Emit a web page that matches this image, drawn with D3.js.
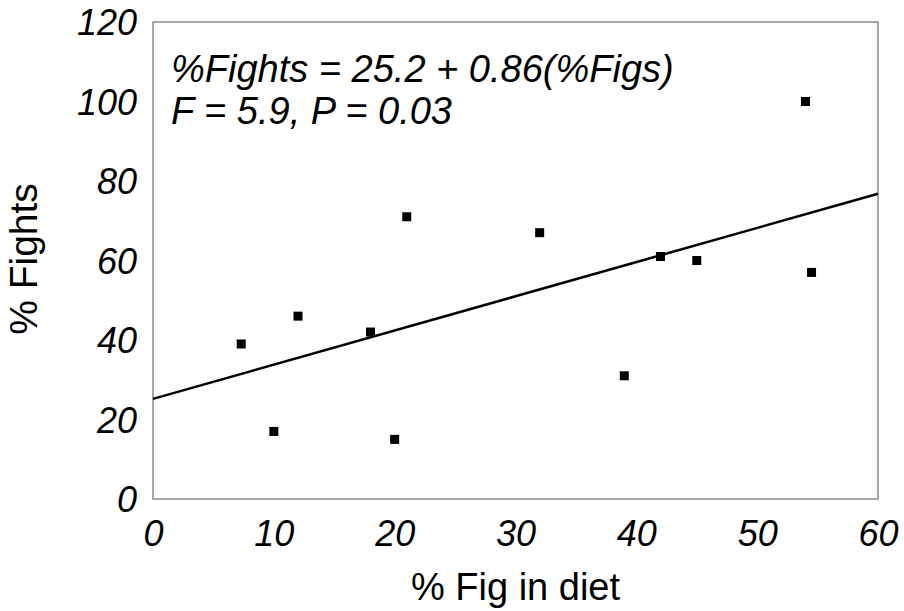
<!DOCTYPE html>
<html>
<head>
<meta charset="utf-8">
<script src="https://cdn.jsdelivr.net/npm/d3@7"></script>
<style>
  body { margin: 0; background: #fff; }
  svg { display: block; font-family: "Liberation Sans", Arial, sans-serif; }
</style>
</head>
<body>
<div id="chart"></div>
<script>
/**
 * DATA
 * */
const figPct = [7.3, 10, 12, 18, 21, 20, 32, 39, 42, 45, 54, 54.5];
const fightPct = [39, 17, 46, 42, 71, 15, 67, 31, 61, 60, 100, 57];
const fitLine = { intercept: 25.2, slope: 0.86 };
const xTicks = [0, 10, 20, 30, 40, 50, 60];
const yTicks = [0, 20, 40, 60, 80, 100, 120];
const annotation = ["%Fights = 25.2 + 0.86(%Figs)", "F = 5.9, P = 0.03"];

const width = 904,
  height = 611,
  margin = { top: 22, right: 26, bottom: 112, left: 153 };

const svg = d3.select("#chart")
  .append("svg")
  .attr("width", width)
  .attr("height", height);

const x = d3.scaleLinear().domain([0, 60]).range([margin.left, width - margin.right]);
const y = d3.scaleLinear().domain([0, 120]).range([height - margin.bottom, margin.top]);

// frame around plot area
svg.append("rect")
  .attr("x", x(0))
  .attr("y", y(120))
  .attr("width", x(60) - x(0))
  .attr("height", y(0) - y(120))
  .attr("fill", "none")
  .attr("stroke", "#8c8c8c")
  .attr("stroke-width", 1.5);

// x axis labels
const xAxis = svg.append("g")
  .attr("transform", `translate(0,${y(0)})`)
  .call(d3.axisBottom(x).tickValues(xTicks).tickSize(0).tickPadding(0));
xAxis.select(".domain").remove();
xAxis.selectAll("text")
  .attr("y", 47)
  .attr("dy", null)
  .attr("font-size", 36)
  .attr("font-style", "italic")
  .attr("font-family", "Liberation Sans, Arial, sans-serif")
  .attr("fill", "#000");

// y axis labels
const yAxis = svg.append("g")
  .attr("transform", `translate(${x(0)},0)`)
  .call(d3.axisLeft(y).tickValues(yTicks).tickSize(0).tickPadding(0));
yAxis.select(".domain").remove();
yAxis.selectAll("text")
  .attr("x", -16)
  .attr("dy", "0.35em")
  .attr("font-size", 36)
  .attr("font-style", "italic")
  .attr("font-family", "Liberation Sans, Arial, sans-serif")
  .attr("fill", "#000");

// axis titles
svg.append("text")
  .attr("x", (x(0) + x(60)) / 2)
  .attr("y", 600)
  .attr("text-anchor", "middle")
  .attr("font-size", 38)
  .text("% Fig in diet");

svg.append("text")
  .attr("transform", `translate(37,259) rotate(-90)`)
  .attr("text-anchor", "middle")
  .attr("font-size", 39)
  .text("% Fights");

// regression line
const line = d3.line().x(d => x(d)).y(d => y(fitLine.intercept + fitLine.slope * d));
svg.append("path")
  .datum([0, 60])
  .attr("d", line)
  .attr("fill", "none")
  .attr("stroke", "#000")
  .attr("stroke-width", 2.5);

// points
const pts = figPct.map((f, i) => ({ fig: f, fight: fightPct[i] }));
svg.selectAll("rect.pt")
  .data(pts)
  .join("rect")
  .attr("class", "pt")
  .attr("x", d => x(d.fig) - 4.5)
  .attr("y", d => y(d.fight) - 4.5)
  .attr("width", 9)
  .attr("height", 9)
  .attr("fill", "#000");

// equation text
svg.selectAll("text.note")
  .data(annotation)
  .join("text")
  .attr("class", "note")
  .attr("x", 171)
  .attr("y", (d, i) => 82 + i * 42)
  .attr("font-size", 38)
  .attr("font-style", "italic")
  .text(d => d);
</script>
</body>
</html>
